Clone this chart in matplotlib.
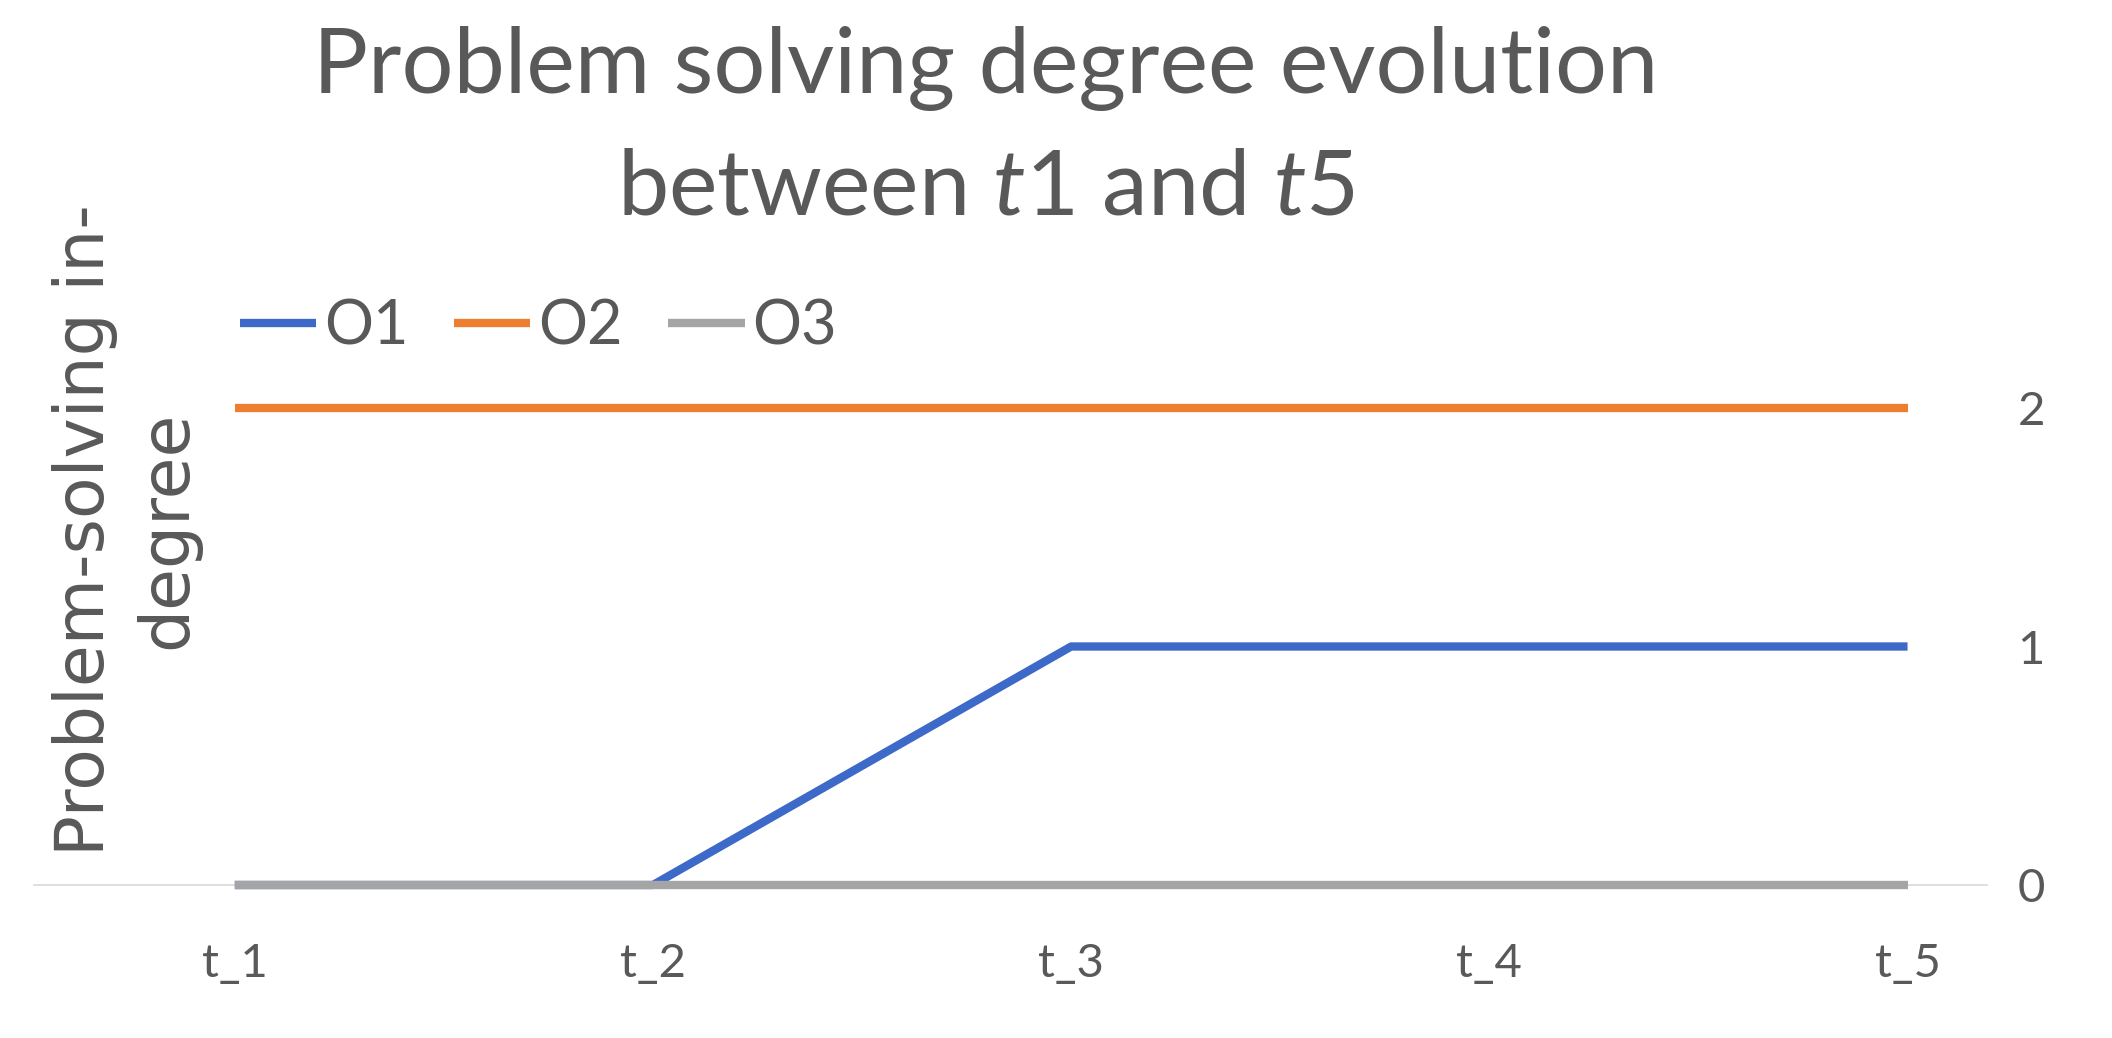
import numpy as np
import matplotlib.pyplot as plt

categories = ["t_1", "t_2", "t_3", "t_4", "t_5"]
o1 = [0, 0, 1, 1, 1]
o2 = [2, 2, 2, 2, 2]
o3 = [0, 0, 0, 0, 0]
yticks = [0, 1, 2]

plt.rcParams['mathtext.fontset'] = 'custom'
plt.rcParams['mathtext.it'] = 'Lato:italic'
plt.rcParams['mathtext.rm'] = 'Lato'

txt = '#595959'
fig = plt.figure(figsize=(21.12, 10.38), dpi=100)
ax = fig.add_axes([34/2112, 1 - 885/1038, (1987 - 34)/2112, (885 - 408)/1038])

x = np.arange(len(categories))
ax.plot(x, o1, color='#3D6AC8', lw=6, label='O1', clip_on=False, solid_capstyle='butt')
ax.plot(x, o2, color='#ED7D31', lw=6, label='O2', clip_on=False, solid_capstyle='butt')
ax.plot(x, o3, color='#A5A5A5', lw=6, label='O3', clip_on=False, solid_capstyle='butt')

ax.set_xlim(-0.48, 4.19)
ax.set_ylim(0, 2)
ax.set_xticks(x)
ax.set_xticklabels(categories, family='Lato', fontsize=34, color=txt)
ax.set_yticks(yticks)
ax.set_yticklabels([str(v) for v in yticks], family='Lato', fontsize=34, color=txt)
ax.yaxis.tick_right()
ax.tick_params(axis='both', length=0)
ax.tick_params(axis='x', pad=42)
ax.tick_params(axis='y', pad=22)
for s in ['top', 'left', 'right']:
    ax.spines[s].set_visible(False)
ax.spines['bottom'].set_color('#D9D9D9')
ax.spines['bottom'].set_linewidth(1.2)
ax.spines['bottom'].set_zorder(0)

fig.text(986/2112, 1 - 128/1038,
         'Problem solving degree evolution\nbetween $t1$ and $t5$',
         ha='center', va='center', family='Lato', fontsize=66, color=txt,
         linespacing=1.55)

fig.text(126/2112, 1 - 530/1038, 'Problem-solving in-\ndegree', rotation=90,
         ha='center', va='center', multialignment='center',
         family='DejaVu Sans', fontsize=49, color=txt, linespacing=1.32)

fig.legend(loc='center left', bbox_to_anchor=(240/2112, 1 - 327/1038), ncol=3,
           frameon=False, prop={'family': 'Lato', 'size': 44},
           handlelength=1.25, handletextpad=0.12, columnspacing=0.75,
           labelcolor=txt, borderpad=0, borderaxespad=0)

fig.savefig('out.png', dpi=100, facecolor='white')
